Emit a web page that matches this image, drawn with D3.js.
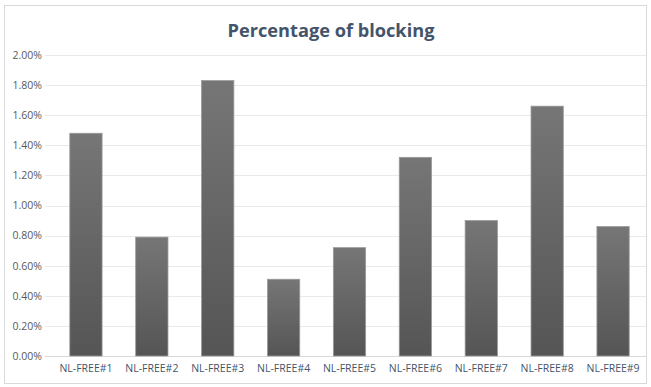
<!DOCTYPE html>
<html>
<head>
<meta charset="utf-8">
<script src="https://cdn.jsdelivr.net/npm/d3@7"></script>
<style>
  html, body { margin: 0; padding: 0; background: #fff; }
  svg { display: block; }
</style>
</head>
<body>
<svg id="chart" width="651" height="387"></svg>
<script>
// Blocking percentage per NL-FREE run
const categories = ["NL-FREE#1", "NL-FREE#2", "NL-FREE#3", "NL-FREE#4", "NL-FREE#5",
                    "NL-FREE#6", "NL-FREE#7", "NL-FREE#8", "NL-FREE#9"];
const blockingPct = [1.48, 0.79, 1.83, 0.51, 0.72, 1.32, 0.90, 1.66, 0.86];
const yTicks = [0, 0.2, 0.4, 0.6, 0.8, 1.0, 1.2, 1.4, 1.6, 1.8, 2.0];
const chartTitle = "Percentage of blocking";

const svg = d3.select("#chart");
const plot = { left: 53, right: 646, top: 55, bottom: 356 };
const font = "'Open Sans', 'Liberation Sans', sans-serif";

// Outer frame
svg.append("rect")
  .attr("x", 4.5).attr("y", 5.5)
  .attr("width", 642).attr("height", 378)
  .attr("fill", "#fff").attr("stroke", "#d9d9d9").attr("stroke-width", 1);

// Title
svg.append("text")
  .attr("x", 331).attr("y", 37)
  .attr("text-anchor", "middle")
  .attr("font-family", font)
  .attr("font-weight", "bold")
  .attr("font-size", 18.2)
  .attr("fill", "#44546a")
  .text(chartTitle);

const x = d3.scaleBand()
  .domain(categories)
  .range([plot.left, plot.right])
  .paddingInner(0.51)
  .paddingOuter(0.255);

const y = d3.scaleLinear()
  .domain([0, 2.0])
  .range([plot.bottom, plot.top]);

// Gridlines
svg.append("g")
  .selectAll("line")
  .data(yTicks)
  .join("line")
  .attr("x1", plot.left - 8).attr("x2", plot.right)
  .attr("y1", d => Math.round(y(d)) + 0.5)
  .attr("y2", d => Math.round(y(d)) + 0.5)
  .attr("stroke", d => d === 0 ? "#d9d9d9" : "#eaeaea")
  .attr("stroke-width", 1);

// Y axis labels
const yAxis = d3.axisLeft(y)
  .tickValues(yTicks)
  .tickSize(0)
  .tickPadding(0)
  .tickFormat(d => d.toFixed(2) + "%");

const gy = svg.append("g")
  .attr("transform", `translate(${plot.left - 11},0)`)
  .call(yAxis);
gy.select(".domain").remove();
gy.selectAll("text")
  .attr("font-family", font)
  .attr("font-size", 10.5)
  .attr("fill", "#595959");

// Bar gradient
const defs = svg.append("defs");
const grad = defs.append("linearGradient")
  .attr("id", "barFill")
  .attr("x1", 0).attr("y1", 0).attr("x2", 0).attr("y2", 1);
grad.append("stop").attr("offset", "0%").attr("stop-color", "#767676");
grad.append("stop").attr("offset", "100%").attr("stop-color", "#555555");

// Bars
svg.append("g")
  .selectAll("rect")
  .data(blockingPct)
  .join("rect")
  .attr("x", (d, i) => x(categories[i]))
  .attr("y", d => y(d))
  .attr("width", x.bandwidth())
  .attr("height", d => y(0) - y(d))
  .attr("fill", "url(#barFill)")
  .attr("stroke", "#9a9a9a")
  .attr("stroke-width", 0.8);

// X axis labels
const xAxis = d3.axisBottom(x).tickSize(0).tickPadding(0);
const gx = svg.append("g")
  .attr("transform", `translate(0,${plot.bottom + 9})`)
  .call(xAxis);
gx.select(".domain").remove();
gx.selectAll("text")
  .attr("font-family", font)
  .attr("font-size", 10.5)
  .attr("fill", "#44546a")
  .attr("dy", "0.71em");
</script>
</body>
</html>
